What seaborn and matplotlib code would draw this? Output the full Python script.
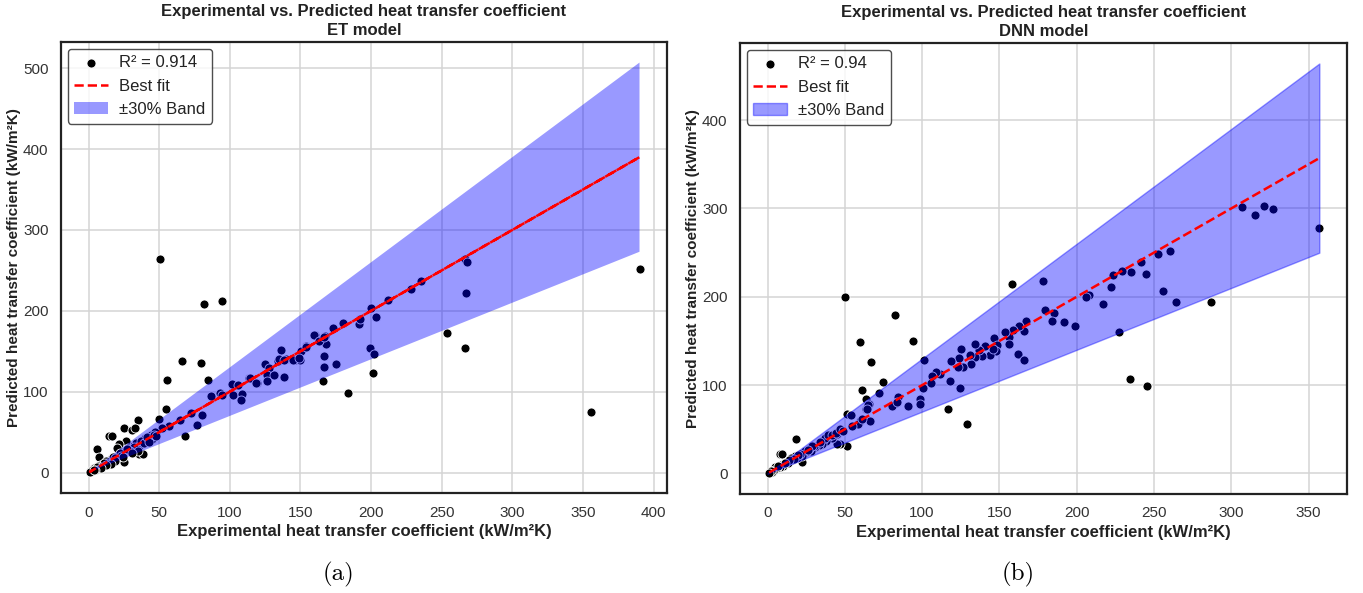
import numpy as np
import matplotlib
matplotlib.use("Agg")
import matplotlib.pyplot as plt
import seaborn as sns

# ---------------- data ----------------
titles = ["Experimental vs. Predicted heat transfer coefficient\nET model",
          "Experimental vs. Predicted heat transfer coefficient\nDNN model"]
r2_values = [0.914, 0.94]
captions = ["(a)", "(b)"]
x_label = "Experimental heat transfer coefficient (kW/m²K)"
y_label = "Predicted heat transfer coefficient (kW/m²K)"
band_frac = 0.30
fit_slope = [1.0, 1.0]
fit_intercept = [0.0, 0.0]

# ET model (panel a)
exp_a = [50.4, 81.7, 94.2, 66, 79.6, 55.6, 84.8, 55, 49.9, 68.3, 77, 80.1, 72.3, 86.4, 93.3,
         94.7, 101.8, 106, 102.5, 108.3, 107.9, 113.5, 119, 114.3, 124.8, 127.6, 126, 126.5,
         131.4, 134.3, 136.2, 138, 139.4, 146, 149.6, 150.5, 154, 160.2, 163.7, 167, 168,
         166.8, 166.8, 165.9, 175.3, 173.1, 180, 191.7, 192.2, 199.8, 203.5, 199.3, 202, 201,
         183.3, 212, 228.5, 235.6, 254, 266.2, 268, 267.4, 266.6, 355.5, 390,
         134.7, 138.3, 144.6, 148.8, 153.7, 159.9, 163, 166.5, 118.7,
         64.8, 57, 52.3, 47.6, 44, 38.2, 33.4, 28.8, 24, 20.5, 15.8, 11.1, 6.4, 1.6, 3,
         35.8, 38.2, 25.4, 26.4, 34.8, 25, 31, 33, 14.1, 16.5, 5.7, 7.6, 21.7, 20.3,
         38, 40, 42, 45, 47, 33, 30, 28, 26, 22, 18, 17, 14, 12, 10, 9, 8, 5, 4, 2, 1.5,
         36, 37, 39, 41, 43, 46, 48, 32, 29, 27, 23, 19, 13, 11, 7, 6, 2.5, 1,
         35, 31, 24, 19, 16, 12, 9, 4.5, 3.5]
pred_a = [263.8, 208, 211.7, 138, 135, 114, 114, 78, 66.7, 44.6, 59, 71.6, 73.7, 94.6, 98,
          95.4, 109.7, 108, 95.8, 97.4, 89.3, 116.7, 110.6, 117.5, 133.9, 129, 120.8, 113.4,
          120.8, 138, 152, 118.3, 140.4, 139, 139, 150.7, 156, 170.4, 163.8, 169, 158.5,
          144, 130.6, 112.6, 134.3, 179, 184.7, 183.4, 190.4, 203, 192, 153.6, 146.2, 123.2,
          98, 213, 227.3, 236.7, 172.9, 264, 260, 222.4, 153.6, 75, 252,
          140, 139.2, 139.2, 142.1, 155.6, 170, 162.5, 168, 110.2,
          65.5, 57.3, 55.3, 47.9, 46.3, 38.9, 36.9, 32.8, 26.7, 22.5, 16.3, 12.3, 7, 2.1, 4,
          22.5, 23.3, 13.5, 38.9, 65.5, 55.3, 53.2, 55.3, 45, 45, 29, 19.3, 35.6, 30.7,
          36, 43, 40, 42, 50, 30, 28, 30, 25, 24, 17, 19, 13, 14, 10, 8, 9, 5, 6, 2, 1.8,
          33, 39, 37, 44, 38, 47, 45, 31, 27, 29, 21, 18, 12, 12, 8, 7, 3, 1.2,
          26, 24, 19, 14, 11, 9, 6, 3.5, 2.5]

# DNN model (panel b)
exp_b = [357, 307, 315.4, 321, 327, 287, 264.1, 255.8, 260.7, 252.8, 245.1, 241.7, 235.3,
         229.2, 223.3, 222, 217.3, 208, 206.2, 227.1, 234.6, 245.7, 198.7, 191.5, 185.3, 184,
         179.3, 178.2, 158.3, 167.1, 165.6, 163, 158.8, 156.2, 156, 162.2, 165.6, 153.8,
         146.4, 148.5, 147.9, 144.2, 146, 140.4, 138.9, 137, 134.4, 134.4, 131.6, 130.8, 125,
         123.7, 126.3, 122.9, 118.6, 118.2, 124.2, 116.9, 129.3, 111.3, 108.8, 106.7, 105.8,
         101.5, 100.4, 98.7, 98.9, 90.8, 84.4, 83.3, 80.6, 94, 82.5, 59.8, 66.7, 74.4, 72.2,
         60.9, 63.7, 65.8, 63.5, 66.2, 50, 51.3, 51.7, 18.4, 7.9, 9.2, 22.4, 54, 59.8, 65.2,
         64.1, 83.8, 47, 44.9, 58.8, 54.5, 61,
         45, 42, 40, 38, 36, 35, 33, 31, 30, 28, 27, 25, 24, 22, 21, 19, 18, 16, 15, 13, 12,
         10, 9, 8, 6, 5, 4, 3, 2, 1, 37, 39, 42, 44, 47, 49, 34, 29, 26, 20, 17, 14, 11, 7]
pred_b = [278, 302, 293, 303, 299, 193.6, 194.4, 207, 252, 249, 226.2, 239.3, 227.7,
          229.6, 224.3, 211.2, 191.8, 201.5, 199.6, 159.6, 106.4, 98.9, 167.4, 171.2, 181.2,
          172.3, 184.6, 218, 215, 173, 161.8, 167, 162.2, 155, 146.8, 135.6, 128.5, 160,
          152.8, 145.7, 138.2, 133.7, 141.2, 144.2, 133, 139.3, 146.4, 131.5, 124, 134, 140.4,
          130.7, 120.6, 120.2, 127.3, 104.5, 97, 73, 55.8, 112.7, 115, 109.8, 101.9,
          128.4, 97, 83.9, 78.3, 76.1, 86.9, 79.8, 76, 149.4, 179, 149, 125.8, 103.7, 91.4,
          94, 84.3, 78.7, 73, 59.9, 200, 67.4, 30.7, 39.3, 21.7, 22.1, 13.1, 66.6, 59.9, 77.5,
          73, 80.5, 33.3, 33.7, 56.2, 54.3, 61.8,
          45, 40, 42, 37, 38, 33, 32, 30, 31, 26, 28, 24, 26, 20, 22, 18, 20, 15, 17, 12, 13,
          9, 10, 7, 6, 7, 4, 2, 3, 1, 40, 44, 44, 46, 50, 48, 36, 31, 27, 21, 16, 15, 12, 8]

datasets = [(exp_a, pred_a), (exp_b, pred_b)]

# ---------------- style ----------------
sns.set_theme(style="whitegrid")
plt.rcParams["font.family"] = ["Liberation Sans", "DejaVu Sans"]
plt.rcParams["axes.edgecolor"] = "#222222"
plt.rcParams["axes.linewidth"] = 1.6
plt.rcParams["grid.color"] = "#d4d4d4"
plt.rcParams["grid.linewidth"] = 1.1

fig = plt.figure(figsize=(13.63, 5.93), dpi=100)
ax_pos = [[0.0448, 0.1686, 0.4446, 0.7605], [0.5429, 0.1670, 0.4453, 0.7605]]
cap_x = [0.248, 0.747]

for i, (xe, yp) in enumerate(datasets):
    ax = fig.add_axes(ax_pos[i])
    xe = np.asarray(xe, float)
    yp = np.asarray(yp, float)
    sns.scatterplot(x=xe, y=yp, color="black", s=42, edgecolor="white", linewidth=0.6,
                    label=f"R² = {r2_values[i]}", ax=ax)
    if i == 0:
        xl = xe  # data order (line overlaps itself)
    else:
        xl = np.sort(xe)
    ax.plot(xl, fit_slope[i] * xl + fit_intercept[i], "--", color="red", lw=1.8,
            label="Best fit", zorder=3)
    xs = np.sort(np.concatenate([[0.0], xe]))
    if i == 0:
        ax.fill_between(xs, (1 - band_frac) * xs, (1 + band_frac) * xs, facecolor="blue",
                        edgecolor="none", linewidth=0, alpha=0.4, label="±30% Band")
    else:
        ax.fill_between(xs, (1 - band_frac) * xs, (1 + band_frac) * xs, color="blue",
                        linewidth=1.0, alpha=0.4, label="±30% Band")
    ax.set_title(titles[i], fontsize=12, fontweight="bold", color="#222222", pad=5,
                 linespacing=1.3)
    ax.set_xlabel(x_label, fontsize=12, fontweight="bold", color="#222222", labelpad=3)
    ax.set_ylabel(y_label, fontsize=11, fontweight="bold", color="#222222")
    ax.yaxis.set_label_coords(-0.066, 0.5)
    ax.tick_params(labelsize=11, colors="#333333", pad=3)
    leg = ax.legend(loc="upper left", fontsize=12, frameon=True, fancybox=True,
                    borderpad=0.4, handlelength=2.0, handletextpad=0.7, labelspacing=0.5,
                    borderaxespad=0.4)
    leg.get_frame().set_edgecolor("#222222")
    leg.get_frame().set_linewidth(1.0)
    for t in leg.get_texts():
        t.set_color("#222222")
    fig.text(cap_x[i], 0.021, captions[i], fontsize=18, family="cmr10",
             ha="center", va="baseline", color="black")

fig.savefig("out.png", dpi=100)
